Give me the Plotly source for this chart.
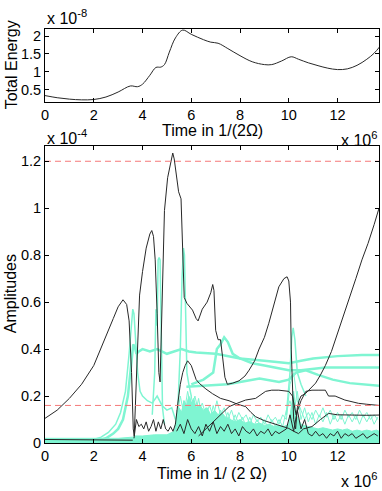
import plotly.graph_objects as go
from plotly.subplots import make_subplots

# 时间单位 1e6，能量单位 1e-8，振幅单位 1e-4（与原图坐标轴的指数标注一致）
X_MAX = 13.7

# 上图：总能量
t_energy = [0, 0.5, 1.0, 1.5, 2.0, 2.5, 3.0, 3.5, 3.8, 4.0, 4.3, 4.55, 4.75, 4.9, 5.1,
            5.35, 5.65, 6.0, 6.5, 6.8, 7.1, 7.5, 8.0, 8.5, 9.0, 9.3, 9.7, 10.1, 10.4,
            10.8, 11.2, 11.6, 12.0, 12.4, 12.8, 13.2, 13.5, 13.75]
energy = [0.33, 0.27, 0.23, 0.21, 0.22, 0.29, 0.43, 0.6, 0.58, 0.65, 0.9, 1.12, 1.13, 1.2,
          1.55, 1.95, 2.17, 2.05, 1.9, 1.83, 1.8, 1.65, 1.45, 1.28, 1.2, 1.2, 1.3, 1.42,
          1.35, 1.25, 1.17, 1.1, 1.06, 1.08, 1.18, 1.35, 1.52, 1.72]

# 下图：主模振幅（黑色）
t_main = [0, 0.5, 1.0, 1.5, 2.0, 2.5, 2.8, 3.0, 3.2, 3.35, 3.45, 3.55, 3.62, 3.66, 3.72,
          3.8, 3.88, 4.0, 4.15, 4.3, 4.38, 4.45, 4.52, 4.6, 4.67, 4.72, 4.76, 4.83, 4.9,
          5.03, 5.15, 5.24, 5.3, 5.37, 5.48, 5.58, 5.64, 5.71, 5.82, 5.95, 6.05, 6.2, 6.28,
          6.45, 6.65, 6.8, 6.88, 6.93, 7.0, 7.1, 7.2, 7.28, 7.38, 7.48, 7.7, 7.96, 8.2,
          8.37, 8.6, 8.78, 9.0, 9.18, 9.4, 9.59, 9.8, 9.93, 10.0, 10.07, 10.1, 10.15,
          10.2, 10.28, 10.35, 10.42, 10.5, 10.68, 10.9, 11.1, 11.3, 11.5, 11.75, 12.0,
          12.25, 12.5, 12.75, 13.0, 13.25, 13.5, 13.7]
amp_main = [0.105, 0.14, 0.19, 0.25, 0.33, 0.45, 0.53, 0.58, 0.61, 0.59, 0.52, 0.3, 0.06,
            0.03, 0.2, 0.45, 0.63, 0.73, 0.83, 0.89, 0.905, 0.88, 0.78, 0.55, 0.3, 0.26,
            0.45, 0.75, 0.99, 1.13, 1.2, 1.235, 1.21, 1.15, 1.07, 1.04, 0.86, 0.62, 0.595,
            0.58, 0.566, 0.53, 0.52, 0.57, 0.6, 0.64, 0.675, 0.65, 0.48, 0.44, 0.44, 0.37,
            0.28, 0.25, 0.255, 0.265, 0.285, 0.31, 0.35, 0.4, 0.45, 0.51, 0.59, 0.665,
            0.7, 0.708, 0.69, 0.6, 0.4, 0.2, 0.1, 0.06, 0.15, 0.18, 0.2, 0.21, 0.235,
            0.255, 0.29, 0.33, 0.39, 0.47, 0.55, 0.63, 0.7, 0.78, 0.85, 0.93, 1.0]

# 其它黑色模
t_low = [0, 1, 2, 3, 3.6]
amp_low = [0.015, 0.014, 0.013, 0.013, 0.012]

t_b3 = [3.65, 3.75, 3.85, 3.95, 4.05, 4.15, 4.25, 4.35, 4.45, 4.55, 4.65, 4.75, 4.85,
        4.95, 5.05, 5.15, 5.25, 5.35, 5.45, 5.55, 5.65, 5.75, 5.85, 6.0, 6.2, 6.33, 6.6,
        6.87, 7.2, 7.55, 7.9, 8.23, 8.45, 8.64, 9.0, 9.32, 9.7, 10.0, 10.2, 10.4, 10.6,
        10.95, 11.3, 11.63, 12.0, 12.3, 12.8, 13.2, 13.7]
amp_b3 = [0.02, 0.1, 0.07, 0.08, 0.06, 0.09, 0.05, 0.07, 0.1, 0.05, 0.09, 0.06, 0.1,
          0.06, 0.05, 0.07, 0.05, 0.08, 0.17, 0.25, 0.3, 0.33, 0.35, 0.33, 0.27, 0.254,
          0.23, 0.21, 0.19, 0.18, 0.165, 0.155, 0.13, 0.112, 0.095, 0.084, 0.07, 0.062,
          0.05, 0.04, 0.06, 0.07, 0.1, 0.126, 0.12, 0.119, 0.12, 0.118, 0.119]

t_b5 = [6.3, 6.5, 6.73, 7.0, 7.3, 7.55, 7.9, 8.23, 8.64, 9.05, 9.3, 9.59, 10.0, 10.15,
        10.3, 10.5, 10.7, 10.95, 11.2, 11.5, 11.63, 11.9, 12.3, 12.6, 12.86, 13.2, 13.7]
amp_b5 = [0.03, 0.05, 0.07, 0.1, 0.13, 0.155, 0.17, 0.183, 0.19, 0.22, 0.225, 0.225,
          0.22, 0.2, 0.12, 0.18, 0.22, 0.225, 0.225, 0.225, 0.2, 0.2, 0.183, 0.175,
          0.169, 0.165, 0.16]

# 密集区噪声
t_noise = [5.4, 5.55, 5.7, 5.85, 6.0, 6.15, 6.3, 6.45, 6.6, 6.75, 6.9, 7.05, 7.2, 7.35,
           7.5, 7.65, 7.8, 7.95, 8.1, 8.25, 8.4, 8.55, 8.7, 8.85, 9.0, 9.15, 9.3, 9.45,
           9.6, 9.75, 9.9, 10.05, 10.2, 10.35, 10.5, 10.65, 10.8, 10.95, 11.1, 11.25,
           11.4, 11.55, 11.7, 11.85, 12.0, 12.15, 12.3, 12.45, 12.6, 12.75, 12.9, 13.05,
           13.2, 13.35, 13.5, 13.65]
amp_noise_cyan = [0.1, 0.2, 0.12, 0.22, 0.15, 0.2, 0.13, 0.17, 0.12, 0.16, 0.11, 0.18,
                  0.12, 0.15, 0.1, 0.14, 0.09, 0.13, 0.1, 0.12, 0.08, 0.12, 0.09, 0.11,
                  0.08, 0.12, 0.09, 0.11, 0.08, 0.12, 0.1, 0.25, 0.3, 0.18, 0.14, 0.1,
                  0.13, 0.1, 0.14, 0.11, 0.15, 0.11, 0.14, 0.1, 0.13, 0.1, 0.14, 0.11,
                  0.13, 0.1, 0.14, 0.11, 0.13, 0.1, 0.12, 0.1]
amp_noise_cyan2 = [0.14, 0.09, 0.18, 0.12, 0.2, 0.11, 0.19, 0.1, 0.15, 0.09, 0.16, 0.1,
                   0.14, 0.09, 0.13, 0.08, 0.12, 0.08, 0.11, 0.07, 0.11, 0.07, 0.1, 0.07,
                   0.1, 0.06, 0.1, 0.07, 0.1, 0.07, 0.14, 0.18, 0.12, 0.22, 0.1, 0.15,
                   0.09, 0.13, 0.08, 0.12, 0.09, 0.13, 0.08, 0.12, 0.09, 0.12, 0.08,
                   0.12, 0.09, 0.12, 0.08, 0.12, 0.09, 0.12, 0.08, 0.11]
amp_noise_black = [0.05, 0.08, 0.04, 0.1, 0.06, 0.04, 0.07, 0.03, 0.08, 0.05, 0.09, 0.04,
                   0.07, 0.05, 0.08, 0.04, 0.06, 0.03, 0.07, 0.05, 0.04, 0.06, 0.03, 0.05,
                   0.04, 0.06, 0.03, 0.05, 0.04, 0.05, 0.06, 0.12, 0.05, 0.14, 0.06, 0.1,
                   0.04, 0.03, 0.05, 0.03, 0.04, 0.02, 0.04, 0.03, 0.05, 0.02, 0.04, 0.03,
                   0.04, 0.02, 0.03, 0.04, 0.02, 0.03, 0.04, 0.03]

# 青色底部包络
t_env = [0, 1, 2, 3, 3.6, 3.7, 4.0, 4.5, 5.0, 5.3, 5.4, 5.5, 5.6, 5.7, 5.8, 5.9, 6.0,
         6.1, 6.2, 6.35, 6.5, 6.65, 6.8, 6.95, 7.1, 7.25, 7.4, 7.6, 7.8, 8.0, 8.2, 8.4,
         8.6, 8.8, 9.0, 9.2, 9.4, 9.6, 9.8, 10.0, 10.1, 10.2, 10.3, 10.4, 10.5, 10.6,
         10.8, 11.0, 11.2, 11.4, 11.6, 11.8, 12.0, 12.2, 12.4, 12.6, 12.8, 13.0, 13.2,
         13.4, 13.6, 13.7]
amp_env = [0.02, 0.02, 0.02, 0.02, 0.025, 0.03, 0.03, 0.035, 0.035, 0.05, 0.12, 0.15,
           0.13, 0.18, 0.16, 0.2, 0.17, 0.19, 0.15, 0.16, 0.14, 0.15, 0.12, 0.14, 0.12,
           0.13, 0.11, 0.1, 0.09, 0.1, 0.085, 0.09, 0.08, 0.085, 0.075, 0.08, 0.07, 0.075,
           0.07, 0.08, 0.15, 0.22, 0.12, 0.1, 0.08, 0.075, 0.07, 0.065, 0.06, 0.065, 0.06,
           0.055, 0.06, 0.055, 0.06, 0.05, 0.055, 0.05, 0.055, 0.05, 0.055, 0.05]

# 青色模：(时间, 振幅, 线宽)
cyan_modes = {
    "c1": ([2.0, 2.3, 2.6, 2.9, 3.1, 3.3, 3.45, 3.55, 3.6, 3.65, 3.72, 3.8, 3.9, 4.0, 4.2,
            4.4, 4.6, 4.8, 5.0, 5.2, 5.35],
           [0.015, 0.025, 0.045, 0.08, 0.13, 0.22, 0.38, 0.52, 0.57, 0.55, 0.42, 0.3, 0.22,
            0.2, 0.18, 0.17, 0.2, 0.16, 0.14, 0.15, 0.1], 1.5),
    "c2": ([2.2, 2.5, 2.8, 3.0, 3.2, 3.4, 3.55, 3.62, 3.68, 3.75, 3.85, 4.0, 4.3, 4.6, 5.0,
            5.3, 5.6, 5.9, 6.2, 7.0, 8.0, 9.0, 10.0, 10.5, 11.0, 12.0, 13.0, 13.7],
           [0.012, 0.02, 0.04, 0.06, 0.1, 0.2, 0.35, 0.42, 0.41, 0.38, 0.39, 0.4, 0.39, 0.4,
            0.38, 0.39, 0.4, 0.39, 0.385, 0.38, 0.36, 0.35, 0.34, 0.35, 0.36, 0.37, 0.375,
            0.375], 2.5),
    "c3": ([4.4, 4.5, 4.55, 4.6, 4.64, 4.68, 4.72, 4.76, 4.82, 4.9],
           [0.12, 0.3, 0.57, 0.5, 0.78, 0.79, 0.78, 0.5, 0.15, 0.08], 1.5),
    "c5": ([5.45, 5.55, 5.62, 5.68, 5.72, 5.76, 5.82, 5.9, 6.0],
           [0.15, 0.4, 0.7, 0.83, 0.8, 0.55, 0.3, 0.25, 0.2], 1.5),
    "c6": ([6.0, 6.5, 6.9, 7.05, 7.2, 7.35, 7.5, 7.7, 8.0, 8.5, 9.0, 9.5, 10.0, 10.5, 11.0,
            11.5, 12.5, 13.7],
           [0.25, 0.27, 0.3, 0.4, 0.42, 0.45, 0.43, 0.38, 0.36, 0.34, 0.33, 0.32, 0.31, 0.31,
            0.315, 0.322, 0.322, 0.322], 2.5),
    "c7": ([5.8, 6.5, 7.5, 8.0, 8.8, 9.6, 10.0, 10.3, 10.7, 11.2, 11.8, 12.5, 13.0, 13.7],
           [0.24, 0.245, 0.25, 0.26, 0.275, 0.26, 0.27, 0.3, 0.31, 0.29, 0.27, 0.255, 0.25,
            0.244], 2.5),
    "c8": ([9.9, 10.05, 10.12, 10.18, 10.25, 10.35, 10.5, 10.7],
           [0.12, 0.3, 0.45, 0.49, 0.44, 0.3, 0.25, 0.2], 1.5),
}

ref_levels = [1.2, 0.16]

CYAN = "rgb(127,245,210)"
BLACK = "rgb(40,40,40)"
FONT = "Liberation Sans, Arial, sans-serif"

fig = make_subplots(rows=2, cols=1)

fig.add_trace(go.Scatter(x=t_energy, y=energy, mode="lines",
                         line=dict(color=BLACK, width=1, shape="spline")), row=1, col=1)

fig.add_trace(go.Scatter(x=t_env, y=amp_env, mode="lines", fill="tozeroy",
                         fillcolor=CYAN, line=dict(color=CYAN, width=1)), row=2, col=1)
for name, (tt, aa, w) in cyan_modes.items():
    fig.add_trace(go.Scatter(x=tt, y=aa, mode="lines", name=name,
                             line=dict(color=CYAN, width=w)), row=2, col=1)
for aa in (amp_noise_cyan, amp_noise_cyan2):
    fig.add_trace(go.Scatter(x=t_noise, y=aa, mode="lines",
                             line=dict(color=CYAN, width=1)), row=2, col=1)

for tt, aa in [(t_low, amp_low), (t_b3, amp_b3), (t_b5, amp_b5),
               (t_noise, amp_noise_black), (t_main, amp_main)]:
    fig.add_trace(go.Scatter(x=tt, y=aa, mode="lines",
                             line=dict(color=BLACK, width=1)), row=2, col=1)

for lv in ref_levels:
    fig.add_trace(go.Scatter(x=[0, X_MAX], y=[lv, lv], mode="lines",
                             line=dict(color="rgb(245,120,120)", width=1, dash="6px,4px")),
                  row=2, col=1)

axis_style = dict(showline=True, linecolor="black", linewidth=1, mirror="allticks",
                  ticks="inside", ticklen=4, tickcolor="black", showgrid=False,
                  zeroline=False, tickfont=dict(family=FONT, size=14.5, color="black"))
fig.update_xaxes(range=[0, X_MAX], tickvals=[0, 2, 4, 6, 8, 10, 12], **axis_style)
fig.update_yaxes(**axis_style)
fig.update_yaxes(range=[0.15, 2.2], tickvals=[0.5, 1, 1.5, 2], domain=[0.8237, 1.0],
                 row=1, col=1)
fig.update_yaxes(range=[0, 1.265], tickvals=[0, 0.2, 0.4, 0.6, 0.8, 1, 1.2],
                 domain=[0, 0.7174], row=2, col=1)

# 注释锚点写明，避免 paper 坐标下的 auto 锚点偏移
ann = dict(xref="paper", yref="paper", showarrow=False, yanchor="middle",
           font=dict(family=FONT, size=16, color="black"))
labels = [
    dict(text="Total Energy", x=-0.101, y=0.913, textangle=-90, xanchor="center"),
    dict(text="Amplitudes", x=-0.101, y=0.36, textangle=-90, xanchor="center"),
    dict(text="Time in 1/(2Ω)", x=0.5, y=0.755, xanchor="center"),
    dict(text="Time in 1/ (2 Ω)", x=0.5, y=-0.073, xanchor="center"),
    dict(text="x 10<sup>-8</sup>", x=0.0, y=1.029, xanchor="left"),
    dict(text="x 10<sup>-4</sup>", x=0.0, y=0.739, xanchor="left"),
    dict(text="x 10<sup>6</sup>", x=1.0, y=0.734, xanchor="right"),
    dict(text="x 10<sup>6</sup>", x=1.0, y=-0.089, xanchor="right"),
]
for lab in labels:
    fig.add_annotation(**ann, **lab)

fig.update_layout(width=382, height=491, showlegend=False,
                  plot_bgcolor="white", paper_bgcolor="white",
                  margin=dict(l=45, r=3, t=29, b=48),
                  font=dict(family=FONT, size=15, color="black"))

# 去掉页面 body 默认 8px 边距，使图贴齐窗口左上角；不显示工具栏
fig.write_html("out.html", config={"displayModeBar": False},
               post_script="document.body.style.margin='0';")
